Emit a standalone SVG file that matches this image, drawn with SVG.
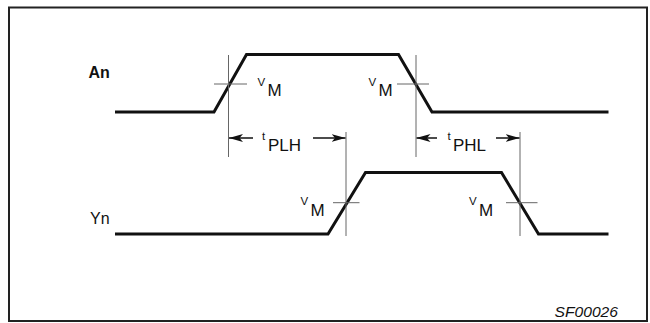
<svg xmlns="http://www.w3.org/2000/svg" width="650" height="323" viewBox="0 0 650 323">
<style>
.wave{fill:none;stroke:#111;stroke-width:3;stroke-linejoin:miter}
.thin{fill:none;stroke:#666;stroke-width:1}
.dim{fill:none;stroke:#111;stroke-width:1.5}
text{font-family:"Liberation Sans",Arial,Helvetica,sans-serif;fill:#111}
.sig{font-size:16px}
.big{font-size:17px}
.small{font-size:11.5px}
.ref{font-size:14.5px;font-style:italic}
</style>
<defs>
<marker id="ah" viewBox="0 0 14 9" refX="14" refY="4.5" markerWidth="14" markerHeight="9" markerUnits="userSpaceOnUse" orient="auto-start-reverse">
<path d="M0,0.5 L14,4.5 L0,8.5 L3.5,4.5 Z" fill="#111"/>
</marker>
</defs>
<rect x="9" y="7.5" width="638" height="313.5" fill="#fff" stroke="#222" stroke-width="2"/>
<g id="An">
<text class="sig" x="88.5" y="78" font-weight="bold">An</text>
<polyline class="wave" points="115,112 214,112 246.5,54.5 398.5,54.5 432,112 608.5,112"/>
</g>
<g id="Yn">
<text class="sig" x="90" y="224">Yn</text>
<polyline class="wave" points="115,234 328,234 365.5,172.5 501.5,172.5 538.5,234 608.5,234"/>
</g>
<g id="connectors">
<line class="thin" x1="228.5" y1="55" x2="228.5" y2="157"/>
<line class="thin" x1="416" y1="55" x2="416" y2="157"/>
<line class="thin" x1="346" y1="132" x2="346" y2="236"/>
<line class="thin" x1="520" y1="132" x2="520" y2="236"/>
<line class="thin" x1="214" y1="84" x2="247" y2="84"/>
<line class="thin" x1="397" y1="84" x2="429" y2="84"/>
<line class="thin" x1="333" y1="202.7" x2="359.5" y2="202.7"/>
<line class="thin" x1="506" y1="202.7" x2="537.5" y2="202.7"/>
<line class="dim" x1="253" y1="138" x2="229" y2="138" marker-end="url(#ah)"/>
<line class="dim" x1="313" y1="138" x2="345.5" y2="138" marker-end="url(#ah)"/>
<line class="dim" x1="437" y1="138" x2="416.5" y2="138" marker-end="url(#ah)"/>
<line class="dim" x1="496" y1="138" x2="519.5" y2="138" marker-end="url(#ah)"/>
</g>
<g id="labels">
<text x="257.5" y="86"><tspan class="small">V</tspan><tspan class="big" x="267.5" y="95.5">M</tspan></text>
<text x="368.5" y="86"><tspan class="small">V</tspan><tspan class="big" x="378.5" y="95.5">M</tspan></text>
<text x="300.5" y="205"><tspan class="small">V</tspan><tspan class="big" x="310.5" y="215.5">M</tspan></text>
<text x="469" y="205"><tspan class="small">V</tspan><tspan class="big" x="479" y="215.5">M</tspan></text>
<text x="262" y="140"><tspan class="small">t</tspan><tspan class="big" x="268" y="150.5">PLH</tspan></text>
<text x="447.5" y="140"><tspan class="small">t</tspan><tspan class="big" x="453" y="150.5">PHL</tspan></text>
<text class="ref" x="554.5" y="316.5" textLength="63.5" lengthAdjust="spacingAndGlyphs">SF00026</text>
</g>
</svg>
